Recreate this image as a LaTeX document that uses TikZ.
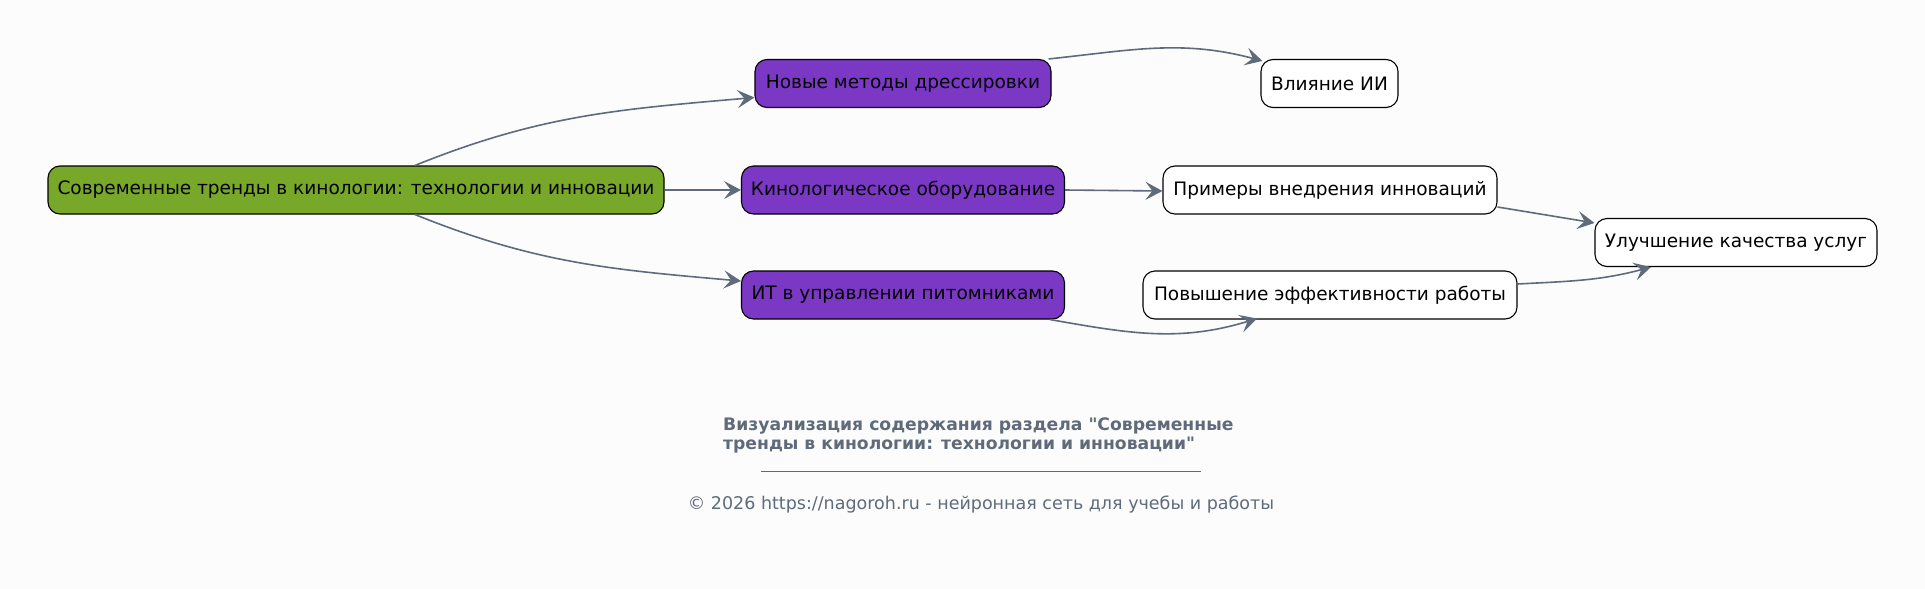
\documentclass[tikz,border=0pt]{standalone}
\usepackage{fontspec}
\setmainfont{DejaVu Sans}[Ligatures=TeXOff]
\usetikzlibrary{arrows.meta}
\definecolor{bg}{HTML}{FCFCFD}
\definecolor{rootgreen}{HTML}{77A82A}
\definecolor{subpurple}{HTML}{7A38C4}
\definecolor{edgegray}{HTML}{5F6B7A}
\begin{document}
\begin{tikzpicture}[x=1pt,y=1pt,
  box/.style={draw=black, line width=1.1pt, rounded corners=12pt, minimum height=48pt, inner sep=0pt, font=\fontsize{18.5}{21}\selectfont, text=black},
  rootbox/.style={box, fill=rootgreen},
  subbox/.style={box, fill=subpurple},
  leafbox/.style={box, fill=white},
  conn/.style={draw=edgegray, line width=1.6pt, -{Stealth[length=17pt,width=18pt,inset=7pt]}},
  lbl/.style={text=edgegray, inner sep=0pt}
]
\fill[bg] (0,0) rectangle (1925,-589);
\useasboundingbox (0,0) rectangle (1925,-589);

\node[rootbox, minimum width=616pt] (root) at (356,-190) {Современные тренды в кинологии: технологии и инновации};
\node[subbox, minimum width=296pt] (new) at (903,-83.5) {Новые методы дрессировки};
\node[subbox, minimum width=323pt] (equip) at (903,-190) {Кинологическое оборудование};
\node[subbox, minimum width=323pt] (it) at (903,-295) {ИТ в управлении питомниками};
\node[leafbox, minimum width=137pt] (ai) at (1329.5,-83.5) {Влияние ИИ};
\node[leafbox, minimum width=334pt] (ex) at (1330,-190) {Примеры внедрения инноваций};
\node[leafbox, minimum width=374pt] (eff) at (1330,-295) {Повышение эффективности работы};
\node[leafbox, minimum width=282pt] (qual) at (1736,-242.5) {Улучшение качества услуг};

\draw[conn] ([xshift=59pt]root.north) to[out=22,in=185] ([yshift=-14pt]new.west);
\draw[conn] (root.east) -- (equip.west);
\draw[conn] ([xshift=59pt]root.south) to[out=-22,in=175] ([yshift=14pt]it.west);
\draw[conn] ([xshift=-3pt]new.north east) to[out=6,in=165] ([xshift=2pt,yshift=-2pt]ai.north west);
\draw[conn] (equip.east) -- ([yshift=-1pt]ex.west);
\draw[conn] ([xshift=-15pt]it.south east) to[out=-10,in=197] ([xshift=-73pt,yshift=1pt]eff.south);
\draw[conn] ([yshift=-17pt]ex.east) -- ([yshift=-5pt]qual.north west);
\draw[conn] ([yshift=11pt]eff.east) to[out=3,in=195] ([xshift=-85pt]qual.south);

\node[lbl, anchor=north west, align=left, font=\bfseries\fontsize{17.2}{19}\selectfont] (title) at (723,-418) {Визуализация содержания раздела "Современные\\ тренды в кинологии: технологии и инновации"};
\coordinate (rl) at (761,-471);
\coordinate (rr) at (1201,-471);
\draw[edgegray, line width=0.8pt] (rl) -- (rr);
\node[lbl, font=\fontsize{17.5}{20}\selectfont] (copy) at (981,-505) {© 2026 https://nagoroh.ru - нейронная сеть для учебы и работы};
\end{tikzpicture}
\end{document}
